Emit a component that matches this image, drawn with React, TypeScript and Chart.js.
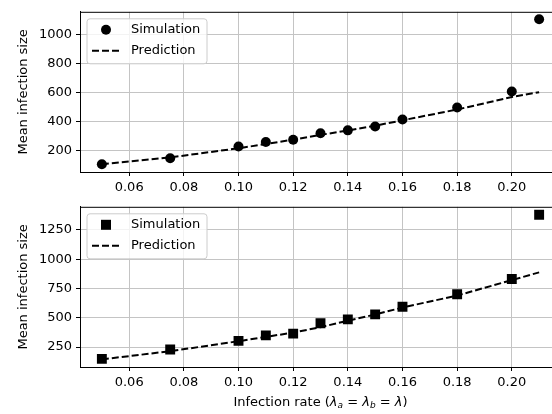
import React, { useEffect, useRef } from "react";
import { Chart, registerables } from "chart.js";
Chart.register(...registerables);

const rates = [0.05, 0.075, 0.1, 0.11, 0.12, 0.13, 0.14, 0.15, 0.16, 0.18, 0.2, 0.21];
const simTop = [108, 150, 230, 261, 277, 321, 341, 368, 416, 498, 608, 1104];
const predTop = [108, 155, 218, 247, 277, 310, 340, 373, 410, 484, 570, 603];
const simBottom = [149, 230, 303, 350, 365, 453, 487, 529, 594, 701, 832, 1380];
const predBottom = [145, 215, 300, 337, 374, 420, 475, 528, 588, 690, 822, 888];
const legendLabels = ["Simulation", "Prediction"];
const yTitle = "Mean infection size";

const FONT = "DejaVu Sans";
const FS = 13;
const W = 580;

function legendPlugin(markerStyle: string) {
  return {
    id: "mplLegend",
    afterDraw(chart: any) {
      const { ctx, chartArea } = chart;
      const x0 = chartArea.left + 7;
      const y0 = chartArea.top + 7;
      const w = 120;
      const h = 45;
      ctx.save();
      ctx.beginPath();
      const r = 3;
      ctx.moveTo(x0 + r, y0);
      ctx.arcTo(x0 + w, y0, x0 + w, y0 + h, r);
      ctx.arcTo(x0 + w, y0 + h, x0, y0 + h, r);
      ctx.arcTo(x0, y0 + h, x0, y0, r);
      ctx.arcTo(x0, y0, x0 + w, y0, r);
      ctx.closePath();
      ctx.fillStyle = "rgba(255,255,255,0.8)";
      ctx.fill();
      ctx.strokeStyle = "#cccccc";
      ctx.lineWidth = 1;
      ctx.stroke();
      const r1 = y0 + 11;
      const r2 = y0 + 32;
      ctx.fillStyle = "#000";
      if (markerStyle === "circle") {
        ctx.beginPath();
        ctx.arc(x0 + 19, r1, 5, 0, Math.PI * 2);
        ctx.fill();
      } else {
        ctx.fillRect(x0 + 14, r1 - 5, 10, 10);
      }
      ctx.beginPath();
      ctx.setLineDash([7, 3]);
      ctx.lineWidth = 2;
      ctx.strokeStyle = "#000";
      ctx.moveTo(x0 + 5, r2);
      ctx.lineTo(x0 + 33, r2);
      ctx.stroke();
      ctx.setLineDash([]);
      ctx.font = `${FS}px '${FONT}'`;
      ctx.textBaseline = "middle";
      ctx.textAlign = "left";
      ctx.fillText(legendLabels[0], x0 + 44, r1);
      ctx.fillText(legendLabels[1], x0 + 44, r2);
      ctx.restore();
    },
  };
}

const framePlugin = {
  id: "frame",
  afterDraw(chart: any) {
    const { ctx, chartArea } = chart;
    ctx.save();
    ctx.strokeStyle = "#000";
    ctx.lineWidth = 1;
    ctx.beginPath();
    ctx.moveTo(chartArea.left, chartArea.top + 0.5);
    ctx.lineTo(chartArea.right, chartArea.top + 0.5);
    ctx.moveTo(chartArea.right - 0.5, chartArea.top);
    ctx.lineTo(chartArea.right - 0.5, chartArea.bottom);
    ctx.stroke();
    ctx.translate(24, (chartArea.top + chartArea.bottom) / 2);
    ctx.rotate(-Math.PI / 2);
    ctx.font = `${FS}px '${FONT}'`;
    ctx.fillStyle = "#000";
    ctx.textAlign = "center";
    ctx.textBaseline = "middle";
    ctx.fillText(yTitle, 0, 0);
    ctx.restore();
  },
};

const xTitlePlugin = {
  id: "xTitle",
  afterDraw(chart: any) {
    const { ctx, chartArea } = chart;
    const normal = `${FS}px '${FONT}'`;
    const ital = `oblique ${FS}px '${FONT}'`;
    const sub = `oblique ${Math.round(FS * 0.7)}px '${FONT}'`;
    const parts: [string, string, number][] = [
      ["Infection rate (", normal, 0],
      ["λ", ital, 0],
      ["a", sub, 3],
      [" = ", normal, 0],
      ["λ", ital, 0],
      ["b", sub, 3],
      [" = ", normal, 0],
      ["λ", ital, 0],
      [")", normal, 0],
    ];
    ctx.save();
    let total = 0;
    for (const [t, f] of parts) {
      ctx.font = f;
      total += ctx.measureText(t).width;
    }
    let x = (chartArea.left + chartArea.right) / 2 - total / 2;
    const y = chartArea.bottom + 36;
    ctx.fillStyle = "#000";
    ctx.textBaseline = "middle";
    ctx.textAlign = "left";
    for (const [t, f, dy] of parts) {
      ctx.font = f;
      ctx.fillText(t, x, y + dy);
      x += ctx.measureText(t).width;
    }
    ctx.restore();
  },
};

function makeConfig(
  sim: number[],
  pred: number[],
  yMin: number,
  yMax: number,
  yStep: number,
  pointStyle: string,
  pointRadius: number,
  axisHeight: number,
  bottom: boolean
): any {
  const tickFont = { family: FONT, size: FS };
  const plugins: any[] = [legendPlugin(pointStyle), framePlugin];
  if (bottom) plugins.push(xTitlePlugin);
  return {
    type: "scatter",
    data: {
      datasets: [
        {
          label: legendLabels[0],
          data: rates.map((r, i) => ({ x: r, y: sim[i] })),
          showLine: false,
          pointStyle,
          pointRadius,
          pointHoverRadius: pointRadius,
          backgroundColor: "#000",
          borderColor: "#000",
          borderWidth: 0,
          order: 0,
        },
        {
          label: legendLabels[1],
          data: rates.map((r, i) => ({ x: r, y: pred[i] })),
          showLine: true,
          pointRadius: 0,
          borderColor: "#000",
          borderWidth: 2,
          borderDash: [7, 3],
          fill: false,
          order: 1,
        },
      ],
    },
    options: {
      animation: false,
      responsive: false,
      devicePixelRatio: 1,
      layout: { padding: { top: 9, right: W - 561, left: 0, bottom: 0 } },
      plugins: { legend: { display: false }, tooltip: { enabled: false } },
      scales: {
        x: {
          type: "linear",
          min: 0.042,
          max: 0.218,
          ticks: {
            stepSize: 0.02,
            includeBounds: false,
            autoSkip: false,
            maxRotation: 0,
            padding: 4,
            color: "#000",
            font: tickFont,
            callback: (v: number) => v.toFixed(2),
          },
          grid: { color: "#c4c4c4", lineWidth: 1, tickColor: "#000", tickLength: 4 },
          border: { display: true, color: "#000", width: 1 },
          afterFit: (s: any) => {
            s.height = axisHeight;
          },
        },
        y: {
          type: "linear",
          min: yMin,
          max: yMax,
          ticks: {
            stepSize: yStep,
            includeBounds: false,
            padding: 4,
            color: "#000",
            font: tickFont,
            callback: (v: number) => String(Math.round(v)),
          },
          grid: { color: "#c4c4c4", lineWidth: 1, tickColor: "#000", tickLength: 4 },
          border: { display: true, color: "#000", width: 1 },
          afterFit: (s: any) => {
            s.width = 80;
          },
        },
      },
    },
    plugins,
  };
}

export default function App() {
  const topRef = useRef<HTMLCanvasElement>(null);
  const botRef = useRef<HTMLCanvasElement>(null);
  useEffect(() => {
    const c1 = new Chart(
      topRef.current!,
      makeConfig(simTop, predTop, 55, 1155, 200, "circle", 5, 23, false)
    );
    const c2 = new Chart(
      botRef.current!,
      makeConfig(simBottom, predBottom, 80, 1448, 250, "rect", 7, 47, true)
    );
    return () => {
      c1.destroy();
      c2.destroy();
    };
  }, []);
  return (
    <div
      style={{
        position: "fixed",
        left: 0,
        top: 0,
        width: 552,
        height: 414,
        overflow: "hidden",
        background: "#fff",
      }}
    >
      <canvas ref={topRef} width={W} height={195} style={{ position: "absolute", left: 0, top: 0 }} />
      <canvas ref={botRef} width={W} height={219} style={{ position: "absolute", left: 0, top: 195 }} />
    </div>
  );
}
